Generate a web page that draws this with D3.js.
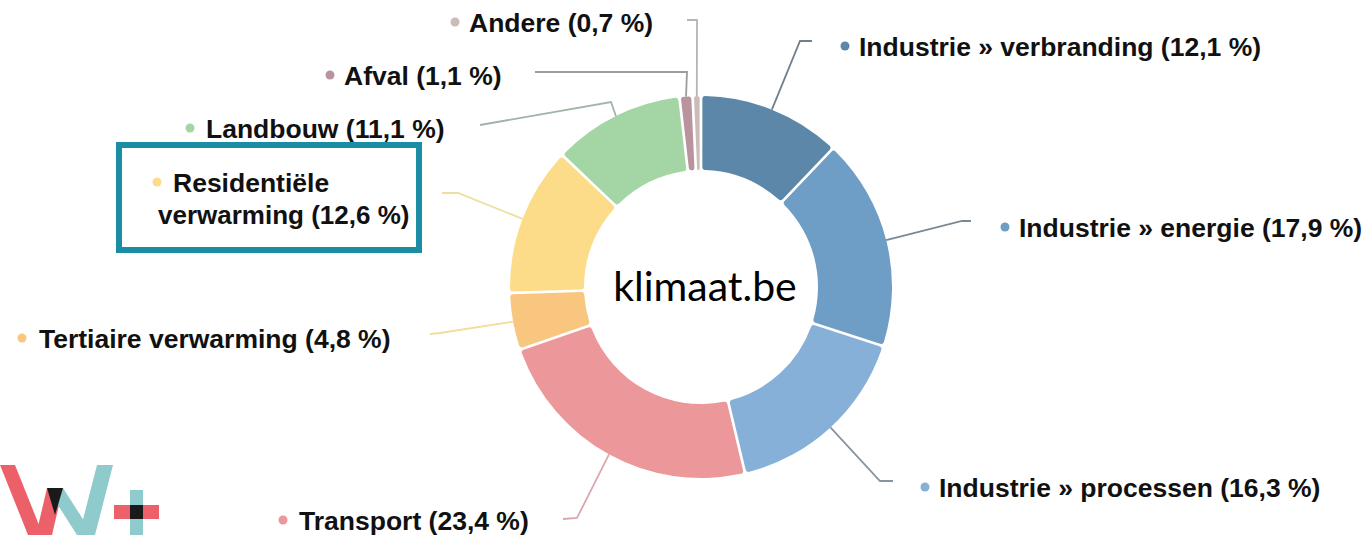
<!DOCTYPE html>
<html><head><meta charset="utf-8">
<script src="https://cdn.jsdelivr.net/npm/d3@7"></script>
<style>body{margin:0;background:#fff}</style>
</head><body><svg id="c" width="1368" height="535"></svg>
<script>
// ---- data ----
const categories = ["Industrie » verbranding","Industrie » energie","Industrie » processen","Transport","Tertiaire verwarming","Residentiële verwarming","Landbouw","Afval","Andere"];
const values = [12.1,17.9,16.3,23.4,4.8,12.6,11.1,1.1,0.7];
const centerLabel = "klimaat.be";

// ---- styles / layout ----
const sliceColors = ["#5c87a9","#6e9dc5","#87b0d8","#ec979a","#f8c67e","#fcdc89","#a4d5a5","#b9949f","#cbbcb8"];
const lineColors  = ["#6f7f8e","#7a8896","#8a949e","#d9a8ad","#f1dd9e","#eedf9e","#9fb5a6","#9c9c9c","#b5b5b5"];
const labelLayout = [
  {dot:[845,46],  tx:859,  elbow:[800,41], end:[812,41]},
  {dot:[1005,227],tx:1019, elbow:[962,221],end:[971,221]},
  {dot:[925,487], tx:939,  elbow:[880,481],end:[893,481]},
  {dot:[283,520], tx:299,  elbow:[577,518],end:[563,519]},
  {dot:[22,338],  tx:39,   elbow:[440,333],end:[430,334]},
  {dot:[157,182], tx:173,  elbow:[458,193],end:[442,193], line2:[158,215]},
  {dot:[190,128], tx:206,  elbow:[611,102],end:[480,125]},
  {dot:[330,75],  tx:344,  elbow:[687,72], end:[535,72]},
  {dot:[455,22],  tx:469,  elbow:[697,20], end:[687,20]}
];
const cx = 701, cy = 287, outerR = 191, innerR = 117;

const svg = d3.select("#c");
const fmt = v => String(v.toFixed(1)).replace(".", ",") + " %";

const pie = d3.pie().sort(null).value(d => d)(values);
const arc = d3.arc().innerRadius(innerR).outerRadius(outerR).padAngle(0.012).cornerRadius(3);

const g = svg.append("g").attr("transform", `translate(${cx},${cy})`);
g.selectAll("path").data(pie).join("path")
  .attr("d", arc).attr("fill", (d,i) => sliceColors[i]);

// leader lines
const lines = svg.append("g").attr("fill","none").attr("stroke-width",1.8);
pie.forEach((d,i) => {
  const a = (d.startAngle + d.endAngle)/2;
  const sx = cx + Math.sin(a)*outerR, sy = cy - Math.cos(a)*outerR;
  const L = labelLayout[i];
  lines.append("path")
    .attr("d", d3.line()([[sx,sy], L.elbow, L.end]))
    .attr("stroke", lineColors[i]);
});

// labels
const lab = svg.append("g").attr("font-family","'Liberation Sans', Arial, sans-serif")
  .attr("font-weight","bold").attr("font-size",26.5).attr("fill","#111");
categories.forEach((c,i) => {
  const L = labelLayout[i];
  lab.append("circle").attr("cx",L.dot[0]).attr("cy",L.dot[1]).attr("r",4.5).attr("fill",sliceColors[i]);
  if (L.line2) {
    const parts = c.split(" ");
    lab.append("text").attr("x",L.tx).attr("y",L.dot[1]).attr("dy","0.36em").text(parts[0]);
    lab.append("text").attr("x",L.line2[0]).attr("y",L.line2[1]).attr("dy","0.36em").attr("font-size",26)
      .text(parts.slice(1).join(" ") + " (" + fmt(values[i]) + ")");
  } else {
    lab.append("text").attr("x",L.tx).attr("y",L.dot[1]).attr("dy","0.36em").text(c + " (" + fmt(values[i]) + ")");
  }
});

// highlight box
svg.append("rect").attr("x",119).attr("y",145).attr("width",300).attr("height",105)
  .attr("fill","none").attr("stroke","#1a8da5").attr("stroke-width",6);

// center text
svg.append("text").attr("x",cx+4).attr("y",cy+14).attr("text-anchor","middle")
  .attr("font-family","Lato, 'Open Sans', sans-serif").attr("font-size",41).attr("fill","#000")
  .text(centerLabel);

// logo
const logo = svg.append("g");
logo.append("polygon").attr("points","0,465 15,465 43,535 28,535").attr("fill","#ec6169");
logo.append("polygon").attr("points","36,535 52,535 63,488 47,488").attr("fill","#ec6169");
logo.append("polygon").attr("points","97,465 113,465 95,535 79,535").attr("fill","#8fcacd");
logo.append("polygon").attr("points","47,488 63,488 93,535 77,535").attr("fill","#8fcacd");
logo.append("polygon").attr("points","47,488 63,488 55,515").attr("fill","#1a1a1a");
logo.append("rect").attr("x",130).attr("y",490).attr("width",13).attr("height",45).attr("fill","#8fcacd");
logo.append("rect").attr("x",114).attr("y",505).attr("width",45).attr("height",14).attr("fill","#ec6169");
logo.append("rect").attr("x",130).attr("y",505).attr("width",13).attr("height",14).attr("fill","#1a1a1a");
</script></body></html>
